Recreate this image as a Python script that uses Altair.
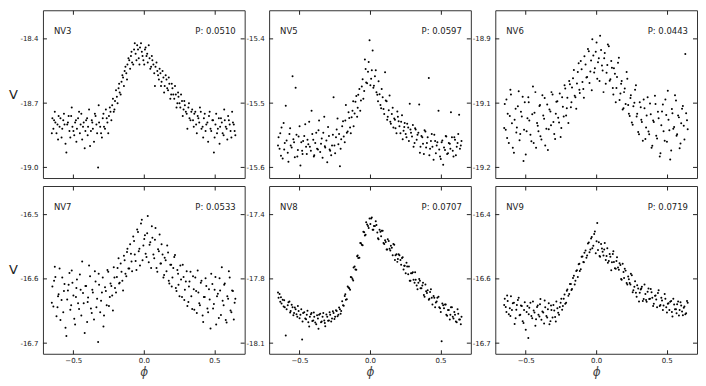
import altair as alt
import pandas as pd

# ---------------- data ----------------
PHASE = [-0.648, -0.641, -0.627, -0.619, -0.604, -0.597, -0.583, -0.571, -0.562, -0.549,
         -0.538, -0.527, -0.515, -0.506, -0.493, -0.481, -0.474, -0.459, -0.448, -0.437,
         -0.426, -0.414, -0.402, -0.395, -0.381, -0.369, -0.361, -0.347, -0.336, -0.324,
         -0.317, -0.303, -0.291, -0.282, -0.269, -0.258, -0.247, -0.236, -0.224, -0.213,
         -0.204, -0.191, -0.179, -0.171, -0.158, -0.147, -0.136, -0.124, -0.116, -0.103,
         -0.091, -0.083, -0.069, -0.058, -0.047, -0.036, -0.027, -0.014, -0.003, 0.008,
         0.019, 0.028, 0.041, 0.052, 0.061, 0.074, 0.083, 0.096, 0.107, 0.118,
         0.126, 0.139, 0.148, 0.161, 0.172, 0.181, 0.194, 0.203, 0.216, 0.227,
         0.238, 0.246, 0.259, 0.271, 0.282, 0.291, 0.304, 0.316, 0.324, 0.337,
         0.349, 0.358, 0.371, 0.382, 0.393, 0.404, 0.417, 0.426, 0.438, 0.451,
         0.462, 0.473, 0.486, 0.497, 0.508, 0.519, 0.532, 0.541, 0.553, 0.566,
         0.574, 0.587, 0.598, 0.609, 0.621, 0.632, 0.644]

PHASE_B = [-0.652, -0.636, -0.631, -0.612, -0.608, -0.591, -0.578, -0.566, -0.555, -0.543,
           -0.533, -0.521, -0.511, -0.499, -0.487, -0.478, -0.466, -0.453, -0.443, -0.431,
           -0.419, -0.409, -0.398, -0.388, -0.375, -0.365, -0.353, -0.342, -0.331, -0.320,
           -0.309, -0.297, -0.286, -0.275, -0.263, -0.252, -0.241, -0.230, -0.219, -0.208,
           -0.197, -0.186, -0.175, -0.164, -0.152, -0.141, -0.130, -0.119, -0.109, -0.097,
           -0.087, -0.075, -0.064, -0.052, -0.041, -0.031, -0.020, -0.009, 0.003, 0.013,
           0.024, 0.035, 0.046, 0.057, 0.068, 0.079, 0.090, 0.101, 0.112, 0.122,
           0.133, 0.144, 0.155, 0.166, 0.177, 0.188, 0.198, 0.209, 0.221, 0.232,
           0.243, 0.253, 0.264, 0.276, 0.287, 0.298, 0.309, 0.320, 0.331, 0.343,
           0.354, 0.365, 0.376, 0.387, 0.398, 0.409, 0.421, 0.432, 0.443, 0.456,
           0.467, 0.478, 0.491, 0.502, 0.513, 0.525, 0.537, 0.547, 0.559, 0.570,
           0.581, 0.592, 0.603, 0.615, 0.626, 0.638, 0.649]

NV3_A = [-18.77, -18.82, -18.79, -18.84, -18.76, -18.81, -18.86, -18.78, -18.80, -18.93,
         -18.79, -18.83, -18.76, -18.81, -18.85, -18.78, -18.82, -18.74, -18.80, -18.87,
         -18.79, -18.83, -18.77, -18.81, -18.90, -18.78, -18.82, -18.75, -18.80, -19.00,
         -18.79, -18.84, -18.77, -18.81, -18.73, -18.79, -18.76, -18.74, -18.71, -18.74,
         -18.69, -18.67, -18.63, -18.65, -18.60, -18.58, -18.55, -18.56, -18.52, -18.50,
         -18.48, -18.51, -18.45, -18.47, -18.43, -18.49, -18.44, -18.46, -18.50, -18.45,
         -18.48, -18.51, -18.49, -18.53, -18.50, -18.56, -18.53, -18.55, -18.59, -18.56,
         -18.60, -18.58, -18.62, -18.59, -18.64, -18.61, -18.66, -18.63, -18.68, -18.66,
         -18.70, -18.67, -18.72, -18.69, -18.73, -18.71, -18.75, -18.72, -18.77, -18.74,
         -18.78, -18.75, -18.80, -18.76, -18.79, -18.74, -18.81, -18.77, -18.83, -18.79,
         -18.76, -18.82, -18.78, -18.93, -18.80, -18.84, -18.77, -18.81, -18.79, -18.85,
         -18.78, -18.82, -18.76, -18.80, -18.86, -18.79, -18.83]
NV3_B = [-18.84, -18.78, -18.74, -18.80, -18.87, -18.77, -18.82, -18.75, -18.89, -18.80,
         -18.76, -18.86, -18.72, -18.83, -18.79, -18.88, -18.77, -18.84, -18.75, -18.81,
         -18.91, -18.78, -18.85, -18.73, -18.83, -18.79, -18.88, -18.76, -18.84, -18.71,
         -18.81, -18.86, -18.75, -18.82, -18.77, -18.84, -18.72, -18.78, -18.68, -18.73,
         -18.64, -18.70, -18.61, -18.66, -18.57, -18.62, -18.53, -18.59, -18.49, -18.54,
         -18.46, -18.52, -18.42, -18.50, -18.45, -18.52, -18.42, -18.48, -18.52, -18.44,
         -18.47, -18.43, -18.54, -18.48, -18.52, -18.62, -18.51, -18.57, -18.54, -18.62,
         -18.55, -18.65, -18.57, -18.63, -18.58, -18.68, -18.61, -18.66, -18.62, -18.72,
         -18.65, -18.70, -18.66, -18.76, -18.69, -18.74, -18.82, -18.70, -18.78, -18.73,
         -18.81, -18.74, -18.84, -18.77, -18.72, -18.82, -18.86, -18.75, -18.80, -18.88,
         -18.74, -18.83, -18.78, -18.86, -18.75, -18.82, -18.89, -18.77, -18.84, -18.73,
         -18.81, -18.87, -18.78, -18.83, -18.74, -18.80, -18.85]

NV5_A = [-15.553, -15.571, -15.538, -15.586, -15.562, -15.504, -15.577, -15.548, -15.566, -15.458,
         -15.561, -15.476, -15.583, -15.552, -15.597, -15.574, -15.559, -15.533, -15.579, -15.564,
         -15.568, -15.512, -15.557, -15.581, -15.546, -15.572, -15.527, -15.563, -15.585, -15.521,
         -15.569, -15.592, -15.551, -15.574, -15.566, -15.491, -15.578, -15.541, -15.564, -15.598,
         -15.556, -15.528, -15.561, -15.503, -15.544, -15.523, -15.547, -15.512, -15.536, -15.498,
         -15.521, -15.487, -15.512, -15.474, -15.493, -15.432, -15.468, -15.451, -15.402, -15.462,
         -15.418, -15.473, -15.449, -15.487, -15.466, -15.503, -15.478, -15.509, -15.452, -15.497,
         -15.521, -15.488, -15.532, -15.507, -15.524, -15.539, -15.513, -15.528, -15.547, -15.519,
         -15.543, -15.531, -15.553, -15.538, -15.501, -15.546, -15.534, -15.562, -15.541, -15.549,
         -15.502, -15.568, -15.553, -15.579, -15.544, -15.562, -15.461, -15.571, -15.548, -15.588,
         -15.559, -15.566, -15.512, -15.583, -15.561, -15.596, -15.573, -15.552, -15.578, -15.563,
         -15.514, -15.574, -15.553, -15.581, -15.562, -15.518, -15.566]
NV5_B = [-15.566, -15.547, -15.582, -15.531, -15.572, -15.558, -15.591, -15.539, -15.569, -15.556,
         -15.584, -15.549, -15.573, -15.536, -15.561, -15.579, -15.551, -15.568, -15.557, -15.529,
         -15.574, -15.548, -15.583, -15.562, -15.571, -15.542, -15.576, -15.555, -15.546, -15.567,
         -15.558, -15.537, -15.572, -15.581, -15.549, -15.566, -15.553, -15.524, -15.548, -15.571,
         -15.536, -15.552, -15.527, -15.546, -15.514, -15.538, -15.522, -15.497, -15.516, -15.489,
         -15.507, -15.478, -15.496, -15.463, -15.481, -15.447, -15.469, -15.436, -15.472, -15.449,
         -15.476, -15.458, -15.483, -15.497, -15.486, -15.508, -15.491, -15.517, -15.496, -15.526,
         -15.511, -15.529, -15.517, -15.538, -15.526, -15.547, -15.521, -15.536, -15.529, -15.556,
         -15.537, -15.548, -15.532, -15.559, -15.541, -15.552, -15.568, -15.539, -15.557, -15.546,
         -15.577, -15.551, -15.563, -15.542, -15.569, -15.553, -15.581, -15.559, -15.568, -15.549,
         -15.578, -15.561, -15.572, -15.587, -15.558, -15.569, -15.551, -15.579, -15.562, -15.571,
         -15.553, -15.583, -15.557, -15.568, -15.548, -15.571, -15.559]

NV6_A = [-19.062, -19.118, -19.083, -19.147, -19.041, -19.104, -19.168, -19.072, -19.113, -19.034,
         -19.127, -19.089, -19.186, -19.058, -19.121, -19.047, -19.098, -19.143, -19.024, -19.081,
         -19.157, -19.109, -19.066, -19.132, -19.043, -19.094, -19.152, -19.063, -19.117, -19.078,
         -19.036, -19.101, -19.138, -19.057, -19.092, -19.039, -19.114, -19.068, -19.021, -19.087,
         -19.048, -19.012, -19.069, -19.026, -18.988, -19.047, -19.017, -18.973, -19.038, -18.986,
         -19.029, -18.958, -19.004, -18.942, -19.016, -18.967, -18.921, -18.993, -18.948, -19.007,
         -18.962, -18.913, -18.978, -19.036, -18.951, -18.994, -18.932, -19.011, -18.968, -19.027,
         -18.984, -19.058, -19.003, -18.961, -19.039, -19.012, -19.071, -19.028, -18.992, -19.064,
         -19.088, -19.043, -19.107, -19.059, -19.021, -19.083, -19.128, -19.069, -19.101, -19.052,
         -19.138, -19.087, -19.122, -19.061, -19.157, -19.098, -19.044, -19.131, -19.079, -19.176,
         -19.108, -19.063, -19.142, -19.086, -19.033, -19.119, -19.163, -19.082, -19.112, -19.054,
         -19.128, -19.091, -19.148, -19.072, -19.109, -18.953, -19.097]
NV6_B = [-19.114, -19.052, -19.136, -19.088, -19.031, -19.157, -19.096, -19.124, -19.067, -19.141,
         -19.079, -19.046, -19.118, -19.172, -19.093, -19.058, -19.129, -19.084, -19.147, -19.036,
         -19.103, -19.121, -19.064, -19.139, -19.087, -19.049, -19.116, -19.162, -19.074, -19.108,
         -19.041, -19.127, -19.083, -19.056, -19.102, -19.134, -19.047, -19.089, -19.028, -19.071,
         -19.103, -19.019, -19.058, -19.006, -19.044, -19.072, -18.992, -19.031, -18.968, -19.014,
         -19.048, -18.976, -19.003, -18.947, -18.991, -19.032, -18.956, -18.984, -18.928, -18.971,
         -19.012, -18.944, -18.989, -18.962, -19.018, -18.977, -18.936, -19.008, -18.983, -19.041,
         -18.996, -19.027, -18.972, -19.053, -19.018, -19.074, -19.036, -19.062, -19.007, -19.083,
         -19.049, -19.102, -19.067, -19.031, -19.089, -19.123, -19.058, -19.096, -19.142, -19.071,
         -19.113, -19.047, -19.128, -19.084, -19.153, -19.101, -19.062, -19.137, -19.093, -19.169,
         -19.078, -19.121, -19.052, -19.144, -19.096, -19.183, -19.073, -19.116, -19.043, -19.131,
         -19.087, -19.158, -19.104, -19.066, -19.139, -19.082, -19.117]

NV7_A = [-16.612, -16.643, -16.597, -16.658, -16.624, -16.584, -16.633, -16.652, -16.608, -16.689,
         -16.618, -16.591, -16.641, -16.606, -16.662, -16.628, -16.601, -16.647, -16.617, -16.573,
         -16.638, -16.611, -16.667, -16.629, -16.596, -16.653, -16.621, -16.588, -16.644, -16.698,
         -16.609, -16.634, -16.598, -16.657, -16.619, -16.586, -16.642, -16.607, -16.626, -16.582,
         -16.614, -16.597, -16.568, -16.606, -16.589, -16.618, -16.571, -16.596, -16.553, -16.584,
         -16.561, -16.588, -16.541, -16.572, -16.523, -16.557, -16.579, -16.508, -16.548, -16.532,
         -16.566, -16.502, -16.547, -16.583, -16.536, -16.568, -16.521, -16.589, -16.557, -16.576,
         -16.546, -16.598, -16.567, -16.588, -16.559, -16.607, -16.578, -16.598, -16.566, -16.614,
         -16.586, -16.609, -16.579, -16.628, -16.597, -16.617, -16.588, -16.636, -16.604, -16.627,
         -16.596, -16.648, -16.619, -16.587, -16.638, -16.606, -16.657, -16.628, -16.599, -16.646,
         -16.616, -16.677, -16.608, -16.639, -16.597, -16.627, -16.661, -16.618, -16.582, -16.641,
         -16.607, -16.668, -16.631, -16.598, -16.652, -16.619, -16.637]
NV7_B = [-16.637, -16.603, -16.581, -16.644, -16.627, -16.664, -16.598, -16.619, -16.676, -16.632,
         -16.609, -16.648, -16.587, -16.626, -16.671, -16.614, -16.638, -16.593, -16.657, -16.622,
         -16.684, -16.611, -16.636, -16.579, -16.646, -16.617, -16.663, -16.604, -16.631, -16.592,
         -16.652, -16.621, -16.674, -16.613, -16.641, -16.589, -16.628, -16.611, -16.649, -16.598,
         -16.621, -16.583, -16.607, -16.576, -16.603, -16.564, -16.592, -16.558, -16.584, -16.546,
         -16.573, -16.534, -16.562, -16.586, -16.527, -16.553, -16.514, -16.571, -16.538, -16.561,
         -16.529, -16.574, -16.543, -16.518, -16.562, -16.539, -16.583, -16.554, -16.531, -16.576,
         -16.562, -16.594, -16.571, -16.548, -16.603, -16.578, -16.612, -16.583, -16.563, -16.619,
         -16.592, -16.627, -16.601, -16.578, -16.633, -16.604, -16.642, -16.612, -16.589, -16.647,
         -16.616, -16.598, -16.653, -16.621, -16.641, -16.603, -16.667, -16.628, -16.611, -16.652,
         -16.632, -16.592, -16.646, -16.617, -16.671, -16.623, -16.599, -16.656, -16.634, -16.609,
         -16.664, -16.627, -16.588, -16.649, -16.618, -16.663, -16.631]

NV8_A = [-17.86, -17.84, -17.89, -17.87, -17.91, -18.06, -17.90, -17.88, -17.93, -17.91,
         -17.94, -17.92, -17.96, -17.93, -17.95, -18.08, -17.94, -17.97, -17.95, -17.99,
         -17.96, -17.94, -17.98, -17.96, -18.00, -17.97, -17.95, -17.99, -17.96, -17.98,
         -18.01, -17.96, -17.98, -17.95, -17.97, -17.94, -17.96, -17.93, -17.95, -17.92,
         -17.93, -17.90, -17.85, -17.87, -17.80, -17.81, -17.75, -17.76, -17.70, -17.71,
         -17.64, -17.65, -17.57, -17.58, -17.51, -17.53, -17.46, -17.48, -17.44, -17.44,
         -17.50, -17.48, -17.455, -17.515, -17.55, -17.51, -17.505, -17.57, -17.555, -17.605,
         -17.55, -17.60, -17.585, -17.635, -17.58, -17.635, -17.67, -17.63, -17.66, -17.65,
         -17.71, -17.69, -17.675, -17.735, -17.77, -17.73, -17.725, -17.78, -17.765, -17.815,
         -17.76, -17.81, -17.795, -17.845, -17.79, -17.835, -17.87, -17.83, -17.86, -17.85,
         -17.91, -17.88, -17.855, -17.915, -18.09, -17.90, -17.895, -17.95, -17.925, -17.975,
         -17.91, -17.96, -17.935, -17.985, -17.92, -17.975, -18.00]
NV8_B = [-17.832, -17.881, -17.857, -17.906, -17.873, -17.921, -17.884, -17.938, -17.897, -17.952,
         -17.912, -17.947, -17.903, -17.968, -17.921, -17.985, -17.936, -17.974, -17.928, -18.012,
         -17.947, -17.983, -17.938, -17.991, -17.952, -18.024, -17.944, -17.986, -17.941, -17.993,
         -17.949, -17.982, -17.937, -17.986, -17.931, -17.972, -17.926, -17.958, -17.911, -17.944,
         -17.878, -17.902, -17.841, -17.868, -17.806, -17.817, -17.752, -17.768, -17.694, -17.712,
         -17.636, -17.648, -17.571, -17.582, -17.513, -17.527, -17.472, -17.491, -17.47, -17.435,
         -17.50, -17.48, -17.475, -17.545, -17.50, -17.535, -17.505, -17.575, -17.565, -17.605,
         -17.56, -17.61, -17.595, -17.575, -17.66, -17.63, -17.655, -17.635, -17.685, -17.645,
         -17.69, -17.73, -17.695, -17.695, -17.77, -17.73, -17.765, -17.725, -17.795, -17.78,
         -17.77, -17.81, -17.78, -17.855, -17.825, -17.82, -17.865, -17.815, -17.895, -17.86,
         -17.885, -17.86, -17.91, -17.935, -17.89, -17.915, -17.895, -17.955, -17.925, -17.95,
         -17.91, -17.97, -17.95, -17.99, -17.945, -17.975, -17.96]

NV9_A = [-16.603, -16.621, -16.608, -16.637, -16.598, -16.628, -16.612, -16.646, -16.617, -16.601,
         -16.638, -16.619, -16.656, -16.611, -16.632, -16.689, -16.623, -16.641, -16.609, -16.633,
         -16.648, -16.618, -16.642, -16.604, -16.631, -16.657, -16.622, -16.644, -16.613, -16.652,
         -16.628, -16.617, -16.643, -16.609, -16.634, -16.621, -16.603, -16.619, -16.594, -16.612,
         -16.583, -16.593, -16.571, -16.582, -16.553, -16.564, -16.541, -16.528, -16.543, -16.512,
         -16.523, -16.503, -16.514, -16.483, -16.502, -16.472, -16.493, -16.462, -16.504, -16.438,
         -16.480, -16.512, -16.494, -16.509, -16.482, -16.510, -16.525, -16.506, -16.541, -16.506,
         -16.523, -16.538, -16.513, -16.540, -16.530, -16.562, -16.545, -16.538, -16.569, -16.555,
         -16.569, -16.549, -16.589, -16.577, -16.590, -16.574, -16.609, -16.583, -16.577, -16.604,
         -16.593, -16.610, -16.581, -16.603, -16.589, -16.619, -16.597, -16.605, -16.591, -16.619,
         -16.601, -16.628, -16.593, -16.622, -16.614, -16.628, -16.608, -16.642, -16.616, -16.626,
         -16.615, -16.640, -16.611, -16.631, -16.623, -16.637, -16.608]
NV9_B = [-16.617, -16.632, -16.596, -16.624, -16.641, -16.613, -16.658, -16.627, -16.606, -16.639,
         -16.618, -16.652, -16.628, -16.671, -16.619, -16.637, -16.612, -16.646, -16.629, -16.662,
         -16.621, -16.638, -16.615, -16.649, -16.633, -16.607, -16.641, -16.626, -16.659, -16.618,
         -16.644, -16.629, -16.653, -16.624, -16.638, -16.612, -16.627, -16.603, -16.614, -16.586,
         -16.597, -16.571, -16.584, -16.558, -16.572, -16.543, -16.556, -16.527, -16.539, -16.511,
         -16.524, -16.498, -16.509, -16.481, -16.496, -16.469, -16.488, -16.457, -16.478, -16.497,
         -16.510, -16.484, -16.501, -16.496, -16.519, -16.493, -16.521, -16.512, -16.524, -16.500,
         -16.537, -16.521, -16.535, -16.526, -16.560, -16.527, -16.558, -16.542, -16.572, -16.561,
         -16.572, -16.552, -16.585, -16.565, -16.599, -16.581, -16.590, -16.581, -16.608, -16.572,
         -16.606, -16.588, -16.604, -16.582, -16.601, -16.614, -16.596, -16.622, -16.585, -16.617,
         -16.607, -16.618, -16.603, -16.633, -16.613, -16.610, -16.632, -16.603, -16.626, -16.635,
         -16.609, -16.628, -16.618, -16.639, -16.620, -16.635, -16.612]

NAMES = ["NV3", "NV5", "NV6", "NV7", "NV8", "NV9"]
PERIODS = ["0.0510", "0.0597", "0.0443", "0.0533", "0.0707", "0.0719"]
MAGS_A = [NV3_A, NV5_A, NV6_A, NV7_A, NV8_A, NV9_A]
MAGS_B = [NV3_B, NV5_B, NV6_B, NV7_B, NV8_B, NV9_B]
YTICKS = [[-18.4, -18.7, -19.0], [-15.4, -15.5, -15.6], [-18.92, -19.06, -19.2],
          [-16.5, -16.6, -16.7], [-17.42, -17.76, -18.1], [-16.42, -16.56, -16.7]]
XTICKS = [-0.5, 0.0, 0.5]
XLIM = [-0.715, 0.715]

# ---------------- layout / style ----------------
W, H = 202, 168
FONT = "DejaVu Sans"
INK = "#222222"
TICK = "#222222"
TS = 4
YLABEL = "replace(format(datum.value, '.1f'), '\u2212', '-')"


def panel(i):
    ticks = YTICKS[i]
    step = ticks[0] - ticks[1]
    ydom = [ticks[2] - 0.165 * step, ticks[0] + 0.445 * step]
    left_col = i % 3 == 0
    bottom_row = i >= 3
    df = pd.DataFrame({"phase": PHASE + PHASE_B, "mag": MAGS_A[i] + MAGS_B[i]})
    tdf = pd.DataFrame({"t": ticks})

    xs = alt.Scale(domain=XLIM, nice=False, zero=False)
    ys = alt.Scale(domain=ydom, nice=False, zero=False)

    xkw = dict(orient="bottom", values=XTICKS, offset=-TS, tickSize=TS, tickWidth=1,
               domain=False, grid=False, tickColor=TICK, labels=bottom_row,
               labelFontSize=7, labelColor=INK, labelPadding=3, format=".1f",
               labelFont=FONT, title="")
    if bottom_row:
        xkw.update(title="\u03d5", titleFontSize=12, titleFontStyle="italic",
                   titleFontWeight="normal", titleColor="#444444", titlePadding=3,
                   titleFont=FONT)
    ykw = dict(orient="left", values=ticks, ticks=False, domain=False, grid=False,
               labelFontSize=7, labelColor=INK, labelPadding=5, labelExpr=YLABEL,
               labelFont=FONT, title="")
    if left_col:
        ykw.update(title="V", titleAngle=0, titleX=-30, titleY=H / 2,
                   titleAlign="center", titleBaseline="middle", titleFontSize=13,
                   titleFontWeight="normal", titleColor=INK, titleFont=FONT)

    base = alt.Chart(df)
    pts = base.mark_circle(size=4, color="black", opacity=1).encode(
        x=alt.X("phase:Q", scale=xs, axis=alt.Axis(**xkw)),
        y=alt.Y("mag:Q", scale=ys, axis=alt.Axis(**ykw)),
    )
    ghost = base.mark_circle(size=0, opacity=0).encode(
        x=alt.X("phase:Q", scale=xs,
                axis=alt.Axis(orient="top", values=XTICKS, offset=-TS, tickSize=TS,
                              tickWidth=1, domain=False, grid=False, labels=False,
                              tickColor=TICK, title="")),
    )
    yt_left = alt.Chart(tdf).mark_rule(color=TICK, strokeWidth=1).encode(
        y=alt.Y("t:Q", scale=ys, axis=None), x=alt.value(0), x2=alt.value(TS))
    yt_right = alt.Chart(tdf).mark_rule(color=TICK, strokeWidth=1).encode(
        y=alt.Y("t:Q", scale=ys, axis=None), x=alt.value(W - TS), x2=alt.value(W))
    lab = pd.DataFrame({"name": [NAMES[i]], "per": ["P: " + PERIODS[i]]})
    name = alt.Chart(lab).mark_text(align="left", baseline="middle", fontSize=8.5,
                                    font=FONT, color=INK).encode(
        x=alt.value(11), y=alt.value(21), text="name:N")
    per = alt.Chart(lab).mark_text(align="right", baseline="middle", fontSize=8.5,
                                   font=FONT, color=INK).encode(
        x=alt.value(W - 9), y=alt.value(21), text="per:N")
    return alt.layer(pts, ghost, yt_left, yt_right, name, per).resolve_axis(
        x="independent", y="independent").properties(width=W, height=H)


chart = alt.concat(*[panel(i) for i in range(6)], columns=3,
                   spacing={"row": 8, "column": 24.5}, bounds="flush").properties(
    padding={"left": 0, "top": 1, "right": 0, "bottom": 0}
).configure_view(stroke="#333333", strokeWidth=1)

chart.save("out.html", embed_options={"renderer": "svg", "actions": False})
